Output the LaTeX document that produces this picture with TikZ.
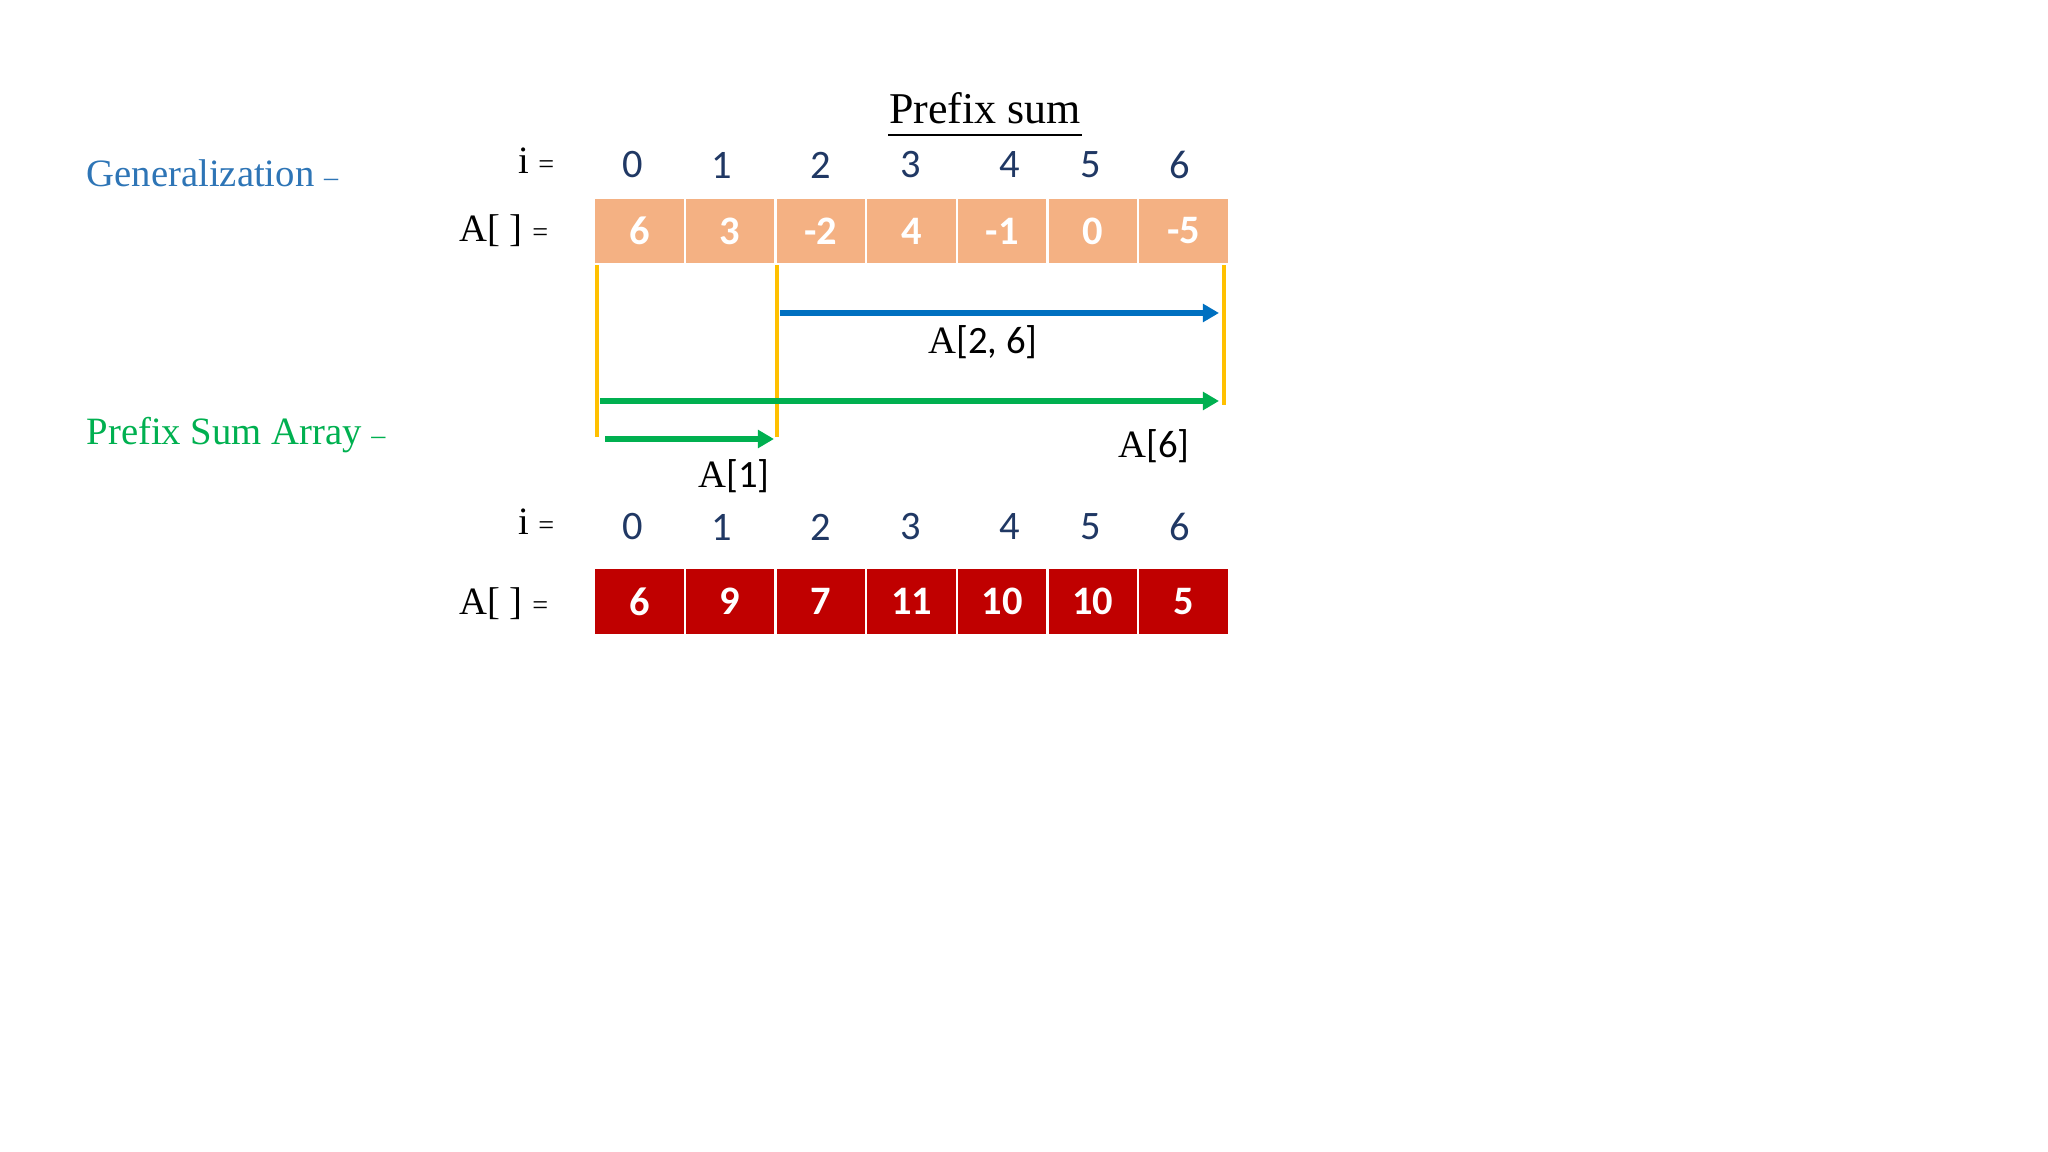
\documentclass[tikz,border=0pt]{standalone}
\usepackage{fontspec}
\setmainfont{Liberation Serif}
\newfontfamily\calibri{Carlito}
\usetikzlibrary{arrows.meta,positioning}
\definecolor{genblue}{HTML}{2E75B6}
\definecolor{sumgreen}{HTML}{00B050}
\definecolor{idxnavy}{HTML}{203864}
\definecolor{cellpeach}{HTML}{F4B183}
\definecolor{cellred}{HTML}{C00000}
\definecolor{baryellow}{HTML}{FFC000}
\definecolor{arrowblue}{HTML}{0070C0}
\begin{document}
\begin{tikzpicture}[x=0.01cm,y=-0.01cm,
    cell/.style={minimum width=0.907cm,minimum height=0.66cm,inner sep=0pt,draw=white,line width=0.7pt,
      text=white,font=\calibri\fontsize{11.5}{13}\selectfont\bfseries},
    idx/.style={text=idxnavy,font=\calibri\fontsize{11.5}{13}\selectfont},
    lbl/.style={inner sep=0pt,font=\fontsize{11}{13}\selectfont},
    bar/.style={baryellow,line width=1.35pt},
    span/.style={line width=1.6pt,-{Triangle[length=4.6pt,width=5pt]}}]
  \useasboundingbox (0,0) rectangle (2048,1152);
  % titles
  \node[lbl,anchor=base,font=\fontsize{12.5}{14}\selectfont] (title) at (985,124) {Prefix sum};
  \draw[line width=0.7pt] ([yshift=-3.1pt]title.base west) -- ([yshift=-3.1pt]title.base east);
  \node[lbl,anchor=west,text=genblue] (gen) at (86,173) {Generalization {\footnotesize –}};
  \node[lbl,anchor=west,text=sumgreen] (psa) at (86,435) {Prefix Sum Array {\footnotesize –}};
  % given array
  \node[lbl,anchor=east] (ti) at (555,161) {i {\footnotesize =}};
  \node[lbl,anchor=east] (ta) at (549,231) {A[\ ] {\footnotesize =}};
  \foreach \d/\x in {0/633,1/722,2/821,3/911,4/1010,5/1091,6/1180}
    \node[idx] (tix\d) at (\x,165) {\d};
  \foreach \v [count=\i from 0] in {6,3,-2,4,-1,0,-5}
    \node[cell,fill=cellpeach] (a\i) at ({639.4+90.7*\i},231) {\v};
  % prefix array
  \node[lbl,anchor=east] (bi) at (555,522) {i {\footnotesize =}};
  \node[lbl,anchor=east] (ba) at (549,604) {A[\ ] {\footnotesize =}};
  \foreach \d/\x in {0/633,1/722,2/821,3/911,4/1010,5/1091,6/1180}
    \node[idx] (bix\d) at (\x,527) {\d};
  \foreach \v [count=\i from 0] in {6,9,7,11,10,10,5}
    \node[cell,fill=cellred,minimum height=0.67cm] (p\i) at ({639.4+90.7*\i},601.5) {\v};
  % yellow bounds
  \coordinate (y0) at (597,437);
  \coordinate (y1) at (777,437);
  \coordinate (y2) at (1224,405);
  \draw[bar] (y0 |- a0.south) -- (y0);
  \draw[bar] (y1 |- a2.south) -- (y1);
  \draw[bar] (y2 |- a6.south) -- (y2);
  % ranges
  \coordinate (r0) at (780,313);
  \coordinate (r1) at (1219,313);
  \coordinate (s0) at (600,401);
  \coordinate (s1) at (1219,401);
  \coordinate (t0) at (605,439);
  \coordinate (t1) at (774,439);
  \draw[span,arrowblue] (r0) -- (r1);
  \draw[span,sumgreen] (s0) -- (s1);
  \draw[span,sumgreen] (t0) -- (t1);
  \node[lbl] (range) at (983,342) {A{\calibri[2, 6]}};
  \node[lbl] (six) at (1154,446) {A{\calibri[6]}};
  \node[lbl] (one) at (734,476) {A{\calibri[1]}};
\end{tikzpicture}
\end{document}
